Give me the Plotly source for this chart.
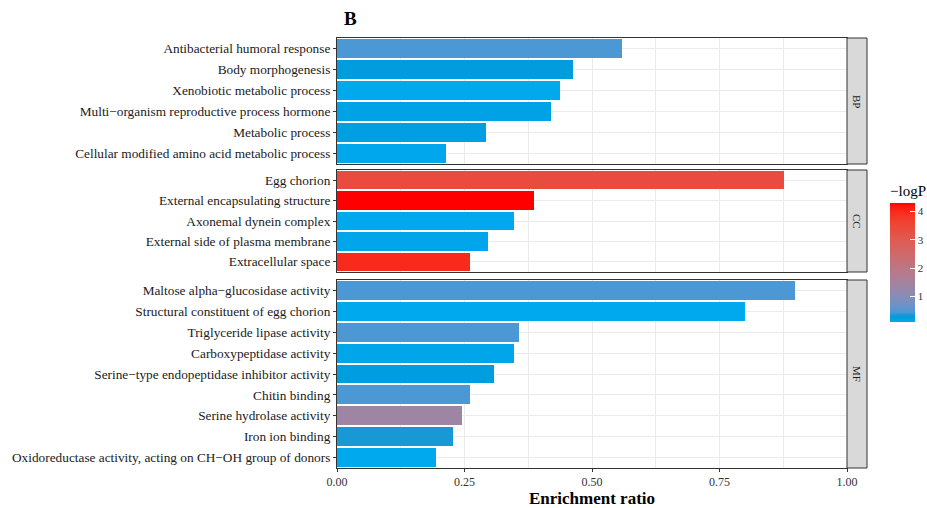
import numpy as np
import plotly.graph_objects as go

# GO enrichment terms, grouped by ontology (top to bottom within each panel)
bp_terms = ["Antibacterial humoral response", "Body morphogenesis",
            "Xenobiotic metabolic process", "Multi\u2212organism reproductive process hormone",
            "Metabolic process", "Cellular modified amino acid metabolic process"]
bp_ratio = [0.559, 0.463, 0.437, 0.420, 0.292, 0.214]
bp_logp = [0.44, 0.27, 0.10, 0.18, 0.22, 0.12]

cc_terms = ["Egg chorion", "External encapsulating structure", "Axonemal dynein complex",
            "External side of plasma membrane", "Extracellular space"]
cc_ratio = [0.876, 0.386, 0.347, 0.296, 0.261]
cc_logp = [3.38, 4.30, 0.10, 0.14, 4.00]

mf_terms = ["Maltose alpha\u2212glucosidase activity", "Structural constituent of egg chorion",
            "Triglyceride lipase activity", "Carboxypeptidase activity",
            "Serine\u2212type endopeptidase inhibitor activity", "Chitin binding",
            "Serine hydrolase activity", "Iron ion binding",
            "Oxidoreductase activity, acting on CH\u2212OH group of donors"]
mf_ratio = [0.898, 0.800, 0.357, 0.347, 0.308, 0.261, 0.245, 0.227, 0.194]
mf_logp = [0.44, 0.10, 0.44, 0.14, 0.25, 0.44, 1.36, 0.35, 0.10]

ontologies = ["BP", "CC", "MF"]
x_ticks = [0.0, 0.25, 0.5, 0.75, 1.0]
x_tick_text = ["0.00", "0.25", "0.50", "0.75", "1.00"]
cbar_ticks = [1, 2, 3, 4]

groups = [(bp_terms, bp_ratio, bp_logp), (cc_terms, cc_ratio, cc_logp),
          (mf_terms, mf_ratio, mf_logp)]
all_logp = bp_logp + cc_logp + mf_logp
cmin, cmax = min(all_logp), max(all_logp)


# ---- blue-to-red gradient (Lab interpolation after a short dark-blue ramp) ----
def _srgb_to_lin(c):
    c = np.asarray(c, float)
    return np.where(c <= 0.04045, c / 12.92, ((c + 0.055) / 1.055) ** 2.4)


def _lin_to_srgb(c):
    c = np.clip(c, 0, 1)
    return np.where(c <= 0.0031308, 12.92 * c, 1.055 * c ** (1 / 2.4) - 0.055)


M = np.array([[0.4124, 0.3576, 0.1805], [0.2126, 0.7152, 0.0722], [0.0193, 0.1192, 0.9505]])
Minv = np.linalg.inv(M)
WHITE = np.array([0.95047, 1.0, 1.08883])


def hex_to_lab(h):
    rgb = np.array([int(h[i:i + 2], 16) / 255 for i in (1, 3, 5)])
    xyz = M @ _srgb_to_lin(rgb) / WHITE
    f = np.where(xyz > 0.008856, np.cbrt(xyz), 7.787 * xyz + 16 / 116)
    return np.array([116 * f[1] - 16, 500 * (f[0] - f[1]), 200 * (f[1] - f[2])])


def lab_to_hex(lab):
    L, a, b = lab
    fy = (L + 16) / 116
    f = np.array([fy + a / 500, fy, fy - b / 200])
    xyz = np.where(f ** 3 > 0.008856, f ** 3, (f - 16 / 116) / 7.787) * WHITE
    rgb = _lin_to_srgb(Minv @ xyz)
    return "#" + "".join(f"{int(round(v * 255)):02X}" for v in rgb)


colorscale = [[0.00, "#00A8EE"], [0.02, "#00A2E6"], [0.04, "#009CDE"], [0.06, "#1A98D6"]]
start_t = 0.08
lab0, lab1 = hex_to_lab("#4A98D4"), hex_to_lab("#FF0000")
for t in np.linspace(start_t, 1, 30):
    u = (t - start_t) / (1 - start_t)
    colorscale.append([float(t), lab_to_hex(lab0 + (lab1 - lab0) * u)])

# ---- geometry (paper coordinates) -----------------------------------------
W, H = 927, 508
x_dom = [337 / W, 847 / W]
panel_px = [(38, 164), (170, 272), (280, 468)]
y_doms = [[1 - b / H, 1 - t / H] for t, b in panel_px]

serif = "Liberation Serif"
fig = go.Figure()

for i, (terms, ratio, logp) in enumerate(groups):
    n = i + 1
    xa = "x" if n == 1 else f"x{n}"
    ya = "y" if n == 1 else f"y{n}"
    fig.add_trace(go.Bar(
        x=ratio, y=terms, orientation="h", width=0.9,
        marker=dict(color=logp, coloraxis="coloraxis", line=dict(width=0)),
        xaxis=xa, yaxis=ya, showlegend=False,
    ))
    last = n == 3
    fig.layout[f"xaxis{'' if n == 1 else n}"] = dict(
        domain=x_dom, anchor=ya, range=[0, 1], tickvals=x_ticks, ticktext=x_tick_text,
        showticklabels=last, ticks="outside" if last else "", ticklen=3, tickcolor="#333333",
        tickfont=dict(family=serif, size=12, color="#333333"),
        showgrid=True, gridcolor="#EBEBEB", gridwidth=1,
        minor=dict(dtick=0.125, tick0=0, showgrid=True, gridcolor="#EBEBEB", gridwidth=0.6),
        showline=True, mirror=True, linecolor="#333333", linewidth=1, zeroline=False,
        title=dict(text="<b>Enrichment ratio</b>", font=dict(family=serif, size=17, color="black"),
                   standoff=12) if last else None,
    )
    fig.layout[f"yaxis{'' if n == 1 else n}"] = dict(
        domain=y_doms[i], anchor=xa, type="category",
        categoryorder="array", categoryarray=terms, range=[len(terms) - 0.5, -0.5],
        ticks="outside", ticklen=3, tickcolor="#333333",
        tickfont=dict(family=serif, size=13.3, color="#1A1A1A"),
        showgrid=True, gridcolor="#EBEBEB", gridwidth=1,
        showline=True, mirror=True, linecolor="#333333", linewidth=1, zeroline=False,
    )
    # facet strip on the right
    y0, y1 = y_doms[i]
    fig.add_shape(type="rect", xref="paper", yref="paper", x0=847 / W, x1=867 / W,
                  y0=y0, y1=y1, fillcolor="#D9D9D9", line=dict(color="#333333", width=1))
    fig.add_annotation(xref="paper", yref="paper", x=857 / W, y=(y0 + y1) / 2,
                       xanchor="center", yanchor="middle",
                       text=ontologies[i], textangle=90, showarrow=False,
                       font=dict(family=serif, size=11, color="#1A1A1A"))

fig.update_layout(
    width=W, height=H, margin=dict(l=0, r=0, t=0, b=0, autoexpand=False),
    paper_bgcolor="white", plot_bgcolor="white", bargap=0,
    coloraxis=dict(
        colorscale=colorscale, cmin=cmin, cmax=cmax,
        colorbar=dict(
            title=dict(text="\u2212logP", side="top", font=dict(family=serif, size=15, color="black")),
            x=890 / W, xanchor="left", y=1 - 182 / H, yanchor="top",
            thickness=25, len=140, lenmode="pixels", xpad=0, ypad=0,
            outlinewidth=0, tickvals=cbar_ticks, ticks="inside", ticklen=5,
            tickcolor="white", tickfont=dict(family=serif, size=11, color="#333333"),
        ),
    ),
    title=dict(text="<b>B</b>", x=344 / W, xanchor="left", y=1 - 18 / H, yanchor="middle",
               font=dict(family=serif, size=19, color="black")),
)

fig.write_html("out.html")
